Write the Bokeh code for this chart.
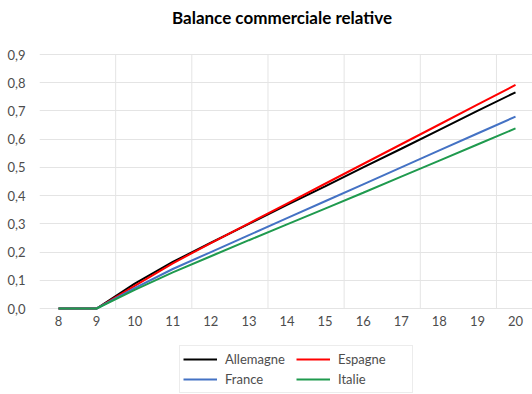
from bokeh.plotting import figure
from bokeh.models import Range1d, FixedTicker, Legend, LegendItem, CustomJSTickFormatter
from bokeh.core.properties import value
from bokeh.embed import file_html
from bokeh.resources import INLINE

# ---- data ----
years = [8, 9, 10, 11, 12, 13, 14, 15, 16, 17, 18, 19, 20]
allemagne = [0.0, 0.0, 0.088, 0.165, 0.233, 0.300, 0.367, 0.433, 0.500, 0.566, 0.633, 0.700, 0.766]
espagne   = [0.0, 0.0, 0.080, 0.160, 0.232, 0.302, 0.372, 0.442, 0.512, 0.582, 0.652, 0.722, 0.792]
france    = [0.0, 0.0, 0.072, 0.140, 0.200, 0.260, 0.320, 0.380, 0.440, 0.500, 0.560, 0.620, 0.680]
italie    = [0.0, 0.0, 0.066, 0.128, 0.185, 0.242, 0.298, 0.354, 0.410, 0.467, 0.524, 0.581, 0.638]
y_ticks = [0.0, 0.1, 0.2, 0.3, 0.4, 0.5, 0.6, 0.7, 0.8, 0.9]
x_labels = [str(y) for y in years]
title_text = "Balance commerciale relative"

FONT = "Lato"
GRID = "#e4e4e4"
TXT = "#4d4d4d"

W, H = 532, 394
LEFT = 39            # px, left edge of the plotting area
TOP0, BOT0 = 54, 308  # px positions of 0.9 and 0.0
PX_PER_X = 38.08
ppu = (BOT0 - TOP0) / 0.9
y_top = 0.9 + TOP0 / ppu
y_bot = -(H - BOT0) / ppu
x_lo = min(years) - 0.5
x_hi = x_lo + (W - LEFT) / PX_PER_X

p = figure(width=W, height=H, output_backend="svg", toolbar_location=None,
           x_range=Range1d(x_lo, x_hi), y_range=Range1d(y_bot, y_top),
           min_border_left=LEFT, min_border_right=0, min_border_top=0, min_border_bottom=0)
p.outline_line_color = None
p.background_fill_color = "white"
p.border_fill_color = "white"

# x axis drawn as text (hidden default axis)
p.xaxis.visible = False

p.yaxis.ticker = FixedTicker(ticks=y_ticks)
p.yaxis.formatter = CustomJSTickFormatter(code="return tick.toFixed(1).replace('.', ',');")
p.yaxis.axis_line_color = None
p.yaxis.major_tick_line_color = None
p.yaxis.minor_tick_line_color = None
p.yaxis.major_label_standoff = 8
p.yaxis.major_label_text_font = FONT
p.yaxis.major_label_text_font_size = "13px"
p.yaxis.major_label_text_color = TXT

# grids
p.ygrid.ticker = FixedTicker(ticks=y_ticks)
p.ygrid.grid_line_color = GRID
p.xgrid.visible = False
vgrid = [y + 0.5 for y in years if y % 2 == 1]
p.segment(x0=vgrid, y0=[0.0] * len(vgrid), x1=vgrid, y1=[max(y_ticks)] * len(vgrid),
          line_color=GRID, line_width=1)

# x tick labels
p.text(x=years, y=[0.0] * len(years), text=x_labels, y_offset=7,
       text_align="center", text_baseline="top", text_font=value(FONT),
       text_font_size="13px", text_color=TXT)

# title
p.text(x=[x_lo + (281.5 - LEFT) / PX_PER_X], y=[0.9 + (TOP0 - 17) / ppu], text=[title_text],
       text_align="center", text_baseline="middle", text_font=value(FONT),
       text_font_size="17px", text_font_style="bold", text_color="#000000")

series = [("Allemagne", allemagne, "#000000"),
          ("Espagne", espagne, "#ff0000"),
          ("France", france, "#4472c4"),
          ("Italie", italie, "#1f9a4e")]
rend = {}
for name, vals, col in series:
    rend[name] = p.line(years, vals, line_color=col, line_width=2)

legend = Legend(items=[LegendItem(label=n, renderers=[rend[n]]) for n, _, _ in series],
                location=(140, 1), orientation="horizontal", nrows=2,
                glyph_width=34, glyph_height=20, label_height=20, label_width=71,
                label_standoff=8, spacing=0, padding=3, margin=0,
                label_text_font=FONT, label_text_font_size="13px", label_text_color=TXT,
                border_line_color="#d9d9d9", background_fill_color="white",
                background_fill_alpha=1.0)
p.add_layout(legend)

open("out.html", "w").write(file_html(p, INLINE))
